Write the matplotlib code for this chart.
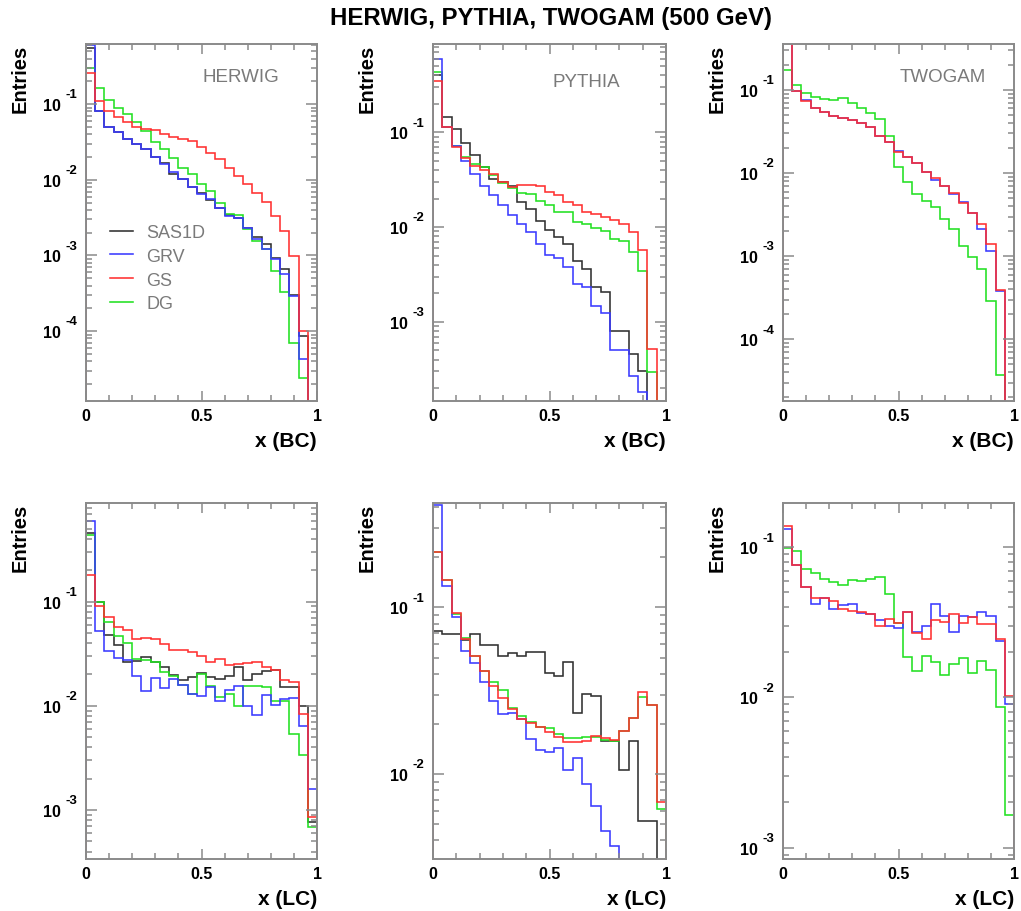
import numpy as np
import matplotlib
matplotlib.use('Agg')
import matplotlib.pyplot as plt
from matplotlib.ticker import FixedLocator, LogLocator, NullFormatter
from matplotlib.lines import Line2D

plt.rcParams['font.family'] = ['Liberation Sans', 'DejaVu Sans']

# ---------------- data (25 bins, x from 0 to 1) ----------------
bin_edges = np.linspace(0.0, 1.0, 26)
series_names = ['SAS1D', 'GRV', 'GS', 'DG']

# HERWIG, x (BC)
herwig_bc_sas1d = [0.55, 0.082, 0.0506, 0.0422, 0.0350, 0.0296, 0.0259, 0.0203, 0.0166, 0.0119, 0.0102, 0.00813, 0.00664,
                   0.00542, 0.00429, 0.00340, 0.00316, 0.00233, 0.00177, 0.00140, 0.000935, 0.000669, 0.000297, 0.0000859, 0]
herwig_bc_grv = [0.60, 0.082, 0.0506, 0.0422, 0.0344, 0.0296, 0.0259, 0.0203, 0.0161, 0.0127, 0.0102, 0.00813, 0.00644,
                 0.00553, 0.00429, 0.00333, 0.00310, 0.00233, 0.00167, 0.00123, 0.000908, 0.000562, 0.000291, 0.0000430, 0]
herwig_bc_gs = [0.262, 0.111, 0.0817, 0.0667, 0.0584, 0.0506, 0.0476, 0.0457, 0.0409, 0.0373, 0.0351, 0.0327, 0.0275,
                0.0229, 0.0187, 0.0145, 0.0113, 0.00873, 0.00678, 0.00515, 0.00333, 0.00211, 0.000984, 0.000100, 0]
herwig_bc_dg = [0.305, 0.163, 0.113, 0.0877, 0.0738, 0.0584, 0.0444, 0.0318, 0.0254, 0.0197, 0.0145, 0.0119, 0.00873,
                0.00713, 0.00500, 0.00350, 0.00343, 0.00226, 0.00155, 0.00123, 0.000622, 0.000329, 0.0000702, 0.0000242, 0]

# PYTHIA, x (BC)
pythia_bc_sas1d = [0.404, 0.146, 0.108, 0.077, 0.0581, 0.0427, 0.0321, 0.0296, 0.0274, 0.0185, 0.0155, 0.0117, 0.00929,
                   0.00778, 0.00661, 0.00441, 0.00360, 0.00236, 0.00209, 0.000803, 0.000791, 0.000455, 0.000303, 0, 0]
pythia_bc_grv = [0.596, 0.113, 0.0711, 0.0502, 0.0363, 0.0274, 0.0218, 0.0172, 0.0135, 0.0108, 0.00879, 0.00661, 0.00506,
                 0.00467, 0.00375, 0.00250, 0.00231, 0.00148, 0.00124, 0.000506, 0.000506, 0.000269, 0.000182, 0, 0]
pythia_bc_gs = [0.351, 0.113, 0.0695, 0.0531, 0.0437, 0.0403, 0.0363, 0.0296, 0.0267, 0.0280, 0.0278, 0.0269, 0.0236,
                0.0218, 0.0185, 0.0172, 0.0145, 0.0137, 0.0128, 0.0119, 0.0108, 0.00893, 0.00571, 0.000522, 0]
pythia_bc_dg = [0.431, 0.113, 0.0711, 0.0544, 0.0463, 0.0426, 0.0354, 0.0292, 0.0256, 0.0229, 0.0223, 0.0190, 0.0172,
                0.0146, 0.0143, 0.0114, 0.0109, 0.00976, 0.00900, 0.00758, 0.00717, 0.00540, 0.00346, 0.000297, 0]

# TWOGAM, x (BC)  (no SAS1D curve visible)
twogam_bc_grv = [0.40, 0.0982, 0.0760, 0.0607, 0.0538, 0.0491, 0.0456, 0.0440, 0.0400, 0.0360, 0.0280, 0.0234, 0.0185,
                 0.0155, 0.0131, 0.0104, 0.00832, 0.00703, 0.00560, 0.00452, 0.00327, 0.00212, 0.00116, 0.000382, 0]
twogam_bc_gs = [0.40, 0.0982, 0.0744, 0.0607, 0.0538, 0.0491, 0.0456, 0.0435, 0.0400, 0.0355, 0.0277, 0.0234, 0.0182,
                0.0155, 0.0131, 0.0102, 0.00863, 0.00703, 0.00574, 0.00443, 0.00327, 0.00243, 0.00140, 0.000393, 0]
twogam_bc_dg = [0.176, 0.115, 0.092, 0.0816, 0.078, 0.0765, 0.0809, 0.0697, 0.0601, 0.0528, 0.0448, 0.0282, 0.0117,
                0.00773, 0.00559, 0.00456, 0.00386, 0.00279, 0.00215, 0.00133, 0.000982, 0.000697, 0.000290, 0.0000368, 0]

# HERWIG, x (LC)
herwig_lc_sas1d = [0.456, 0.100, 0.0479, 0.0384, 0.0262, 0.0272, 0.0297, 0.0265, 0.0234, 0.0198, 0.0178, 0.0188, 0.0207,
                   0.0188, 0.0183, 0.0195, 0.0234, 0.0178, 0.0202, 0.0218, 0.0222, 0.0151, 0.0151, 0.0100, 0.000762]
herwig_lc_grv = [0.600, 0.0527, 0.0339, 0.0286, 0.0275, 0.0195, 0.0140, 0.0185, 0.0147, 0.0181, 0.0160, 0.0130, 0.0123,
                 0.0151, 0.0112, 0.0143, 0.0156, 0.0100, 0.00817, 0.0127, 0.0102, 0.0116, 0.0118, 0.00645, 0.00159]
herwig_lc_gs = [0.180, 0.0916, 0.0708, 0.0575, 0.0538, 0.0438, 0.0445, 0.0438, 0.0393, 0.0346, 0.0346, 0.0331, 0.0299,
                0.0265, 0.0282, 0.0247, 0.0252, 0.0258, 0.0265, 0.0234, 0.0222, 0.0178, 0.0168, 0.00835, 0.000851]
herwig_lc_dg = [0.436, 0.0985, 0.0643, 0.0472, 0.0401, 0.0282, 0.0278, 0.0265, 0.0210, 0.0195, 0.0158, 0.0130, 0.0202,
                0.0154, 0.0121, 0.0130, 0.0100, 0.0154, 0.0156, 0.0151, 0.0112, 0.0112, 0.00537, 0.00337, 0.000682]

# PYTHIA, x (LC)
pythia_lc_sas1d = [0.0724, 0.0692, 0.0692, 0.0640, 0.0692, 0.0597, 0.0597, 0.0513, 0.0530, 0.0508, 0.0542, 0.0542, 0.0404,
                   0.0389, 0.0472, 0.0231, 0.0302, 0.0292, 0.0157, 0.0157, 0.0106, 0.0157, 0.00525, 0.00525, 0]
pythia_lc_grv = [0.411, 0.135, 0.0871, 0.0550, 0.0461, 0.0358, 0.0275, 0.0229, 0.0231, 0.0214, 0.0162, 0.0140, 0.0135,
                 0.0143, 0.0106, 0.0124, 0.00871, 0.00646, 0.00453, 0.00372, 0, 0, 0, 0, 0]
pythia_lc_gs = [0.216, 0.146, 0.0920, 0.0646, 0.0513, 0.0417, 0.0339, 0.0286, 0.0245, 0.0214, 0.0201, 0.0191, 0.0178,
                0.0166, 0.0155, 0.0155, 0.0157, 0.0168, 0.0164, 0.0160, 0.0180, 0.0216, 0.0312, 0.0259, 0.00682]
pythia_lc_dg = [0.216, 0.146, 0.0910, 0.0652, 0.0513, 0.0417, 0.0355, 0.0319, 0.0248, 0.0222, 0.0206, 0.0191, 0.0188,
                0.0174, 0.0164, 0.0164, 0.0166, 0.0166, 0.0161, 0.0158, 0.0180, 0.0216, 0.0288, 0.0259, 0.00617]

# TWOGAM, x (LC)  (no SAS1D curve visible)
twogam_lc_grv = [0.1325, 0.0767, 0.0542, 0.0420, 0.0457, 0.0388, 0.0413, 0.0420, 0.0365, 0.0360, 0.0330, 0.0301, 0.0289,
                 0.0373, 0.0274, 0.0301, 0.0420, 0.0351, 0.0274, 0.0351, 0.0345, 0.0373, 0.0347, 0.0236, 0.00905]
twogam_lc_gs = [0.139, 0.0767, 0.0542, 0.0457, 0.0457, 0.0441, 0.0388, 0.0379, 0.0369, 0.0360, 0.0301, 0.0333, 0.0313,
                0.0369, 0.0269, 0.0245, 0.0330, 0.0320, 0.0360, 0.0313, 0.0342, 0.0309, 0.0309, 0.0245, 0.0102]
twogam_lc_dg = [0.0985, 0.0950, 0.0718, 0.0675, 0.0615, 0.0590, 0.0561, 0.0606, 0.0600, 0.0615, 0.0631, 0.0489, 0.0313,
                0.0187, 0.0149, 0.0188, 0.0173, 0.0141, 0.0167, 0.0183, 0.0146, 0.0176, 0.0152, 0.00860, 0.00165]

generators = ['HERWIG', 'PYTHIA', 'TWOGAM']
x_labels = ['x (BC)', 'x (LC)']
title = 'HERWIG, PYTHIA, TWOGAM (500 GeV)'

# ---------------- styling ----------------
W, H = 1021, 912
colors = {'SAS1D': '#303030', 'GRV': '#3a3aff', 'GS': '#ff3030', 'DG': '#22e022'}
draw_order = ['SAS1D', 'DG', 'GRV', 'GS']
frame_col = '#8a8a8a'

panels = [
    dict(box=(86, 45, 317, 402), gen=0, xl=0, ylim=(1.19e-5, 0.624), dec=[1, 2, 3, 4], tpos=(0.506, 0.91),
         data={'SAS1D': herwig_bc_sas1d, 'GRV': herwig_bc_grv, 'GS': herwig_bc_gs, 'DG': herwig_bc_dg}, legend=True),
    dict(box=(433, 45, 666, 402), gen=1, xl=0, ylim=(1.46e-4, 0.857), dec=[1, 2, 3], tpos=(0.511, 0.896),
         data={'SAS1D': pythia_bc_sas1d, 'GRV': pythia_bc_grv, 'GS': pythia_bc_gs, 'DG': pythia_bc_dg}),
    dict(box=(783, 45, 1014, 402), gen=2, xl=0, ylim=(1.81e-5, 0.358), dec=[1, 2, 3, 4], tpos=(0.506, 0.91),
         data={'GRV': twogam_bc_grv, 'GS': twogam_bc_gs, 'DG': twogam_bc_dg}),
    dict(box=(86, 504, 317, 860), gen=0, xl=1, ylim=(3.39e-4, 0.885), dec=[1, 2, 3], tpos=None,
         data={'SAS1D': herwig_lc_sas1d, 'GRV': herwig_lc_grv, 'GS': herwig_lc_gs, 'DG': herwig_lc_dg}),
    dict(box=(433, 504, 666, 860), gen=1, xl=1, ylim=(3.09e-3, 0.423), dec=[1, 2], tpos=None,
         data={'SAS1D': pythia_lc_sas1d, 'GRV': pythia_lc_grv, 'GS': pythia_lc_gs, 'DG': pythia_lc_dg}),
    dict(box=(783, 504, 1014, 860), gen=2, xl=1, ylim=(8.41e-4, 0.197), dec=[1, 2, 3], tpos=None,
         data={'GRV': twogam_lc_grv, 'GS': twogam_lc_gs, 'DG': twogam_lc_dg}),
]

fig = plt.figure(figsize=(W / 100, H / 100), dpi=100)
fig.text(551 / W, 1 - 18 / H, title, ha='center', va='center', fontsize=17.3, fontweight='bold')

for p in panels:
    L, T, R, B = p['box']
    ax = fig.add_axes([L / W, 1 - B / H, (R - L) / W, (B - T) / H])
    ax.set_yscale('log')
    for name in draw_order:
        if name not in p['data']:
            continue
        v = np.asarray(p['data'][name], dtype=float)
        v_plot = np.where(v > 0, v, 1e-12)
        ax.stairs(v_plot, bin_edges, baseline=1e-12, color=colors[name], lw=1.15)
    ax.set_xlim(0, 1)
    ax.set_ylim(*p['ylim'])

    for s in ax.spines.values():
        s.set_color(frame_col)
        s.set_linewidth(1.4)

    # x ticks
    ax.xaxis.set_major_locator(FixedLocator([0, 0.5, 1]))
    ax.xaxis.set_minor_locator(FixedLocator(np.arange(0.1, 1.0, 0.1)))
    ax.set_xticklabels(['0', '0.5', '1'], fontsize=11.5, fontweight='bold')
    # y ticks
    ax.yaxis.set_major_locator(FixedLocator([10.0 ** (-d) for d in p['dec']]))
    ax.yaxis.set_minor_locator(LogLocator(base=10, subs=np.arange(2, 10)))
    ax.yaxis.set_minor_formatter(NullFormatter())
    ax.set_yticklabels(['10'] * len(p['dec']), fontsize=11.5, fontweight='bold')
    ax.tick_params(which='both', direction='in', top=True, right=True, color=frame_col, width=1.1)
    ax.tick_params(axis='y', which='major', length=8, pad=18)
    ax.tick_params(axis='y', which='minor', length=4)
    ax.tick_params(axis='x', which='major', length=7, pad=5)
    ax.tick_params(axis='x', which='minor', length=4)

    for d in p['dec']:
        ax.annotate('-%d' % d, xy=(0, 10.0 ** (-d)), xycoords=('axes fraction', 'data'),
                    xytext=(-15, 7), textcoords='offset points', ha='left', va='center',
                    fontsize=9.5, fontweight='bold')

    # axis titles
    ax.text(-66 / (R - L), 1.0, 'Entries', transform=ax.transAxes, rotation=90, ha='center', va='top',
            fontsize=14.5, fontweight='bold')
    ax.text(1.0, -40 / (B - T), x_labels[p['xl']], transform=ax.transAxes, ha='right', va='center',
            fontsize=15, fontweight='bold')

    if p['tpos'] is not None:
        ax.text(p['tpos'][0], p['tpos'][1], generators[p['gen']], transform=ax.transAxes, ha='left',
                va='center', fontsize=13.5, color='#7a7a7a')

    if p.get('legend'):
        proxies = [Line2D([], [], color=colors[n], lw=1.15) for n in series_names]
        leg = ax.legend(proxies, series_names, loc='center left', bbox_to_anchor=(0.104, 0.372),
                        frameon=False, fontsize=13, handlelength=1.25, handletextpad=0.75,
                        labelspacing=0.38, borderpad=0, borderaxespad=0)
        for t in leg.get_texts():
            t.set_color('#7a7a7a')

fig.savefig('out.png', dpi=100)
